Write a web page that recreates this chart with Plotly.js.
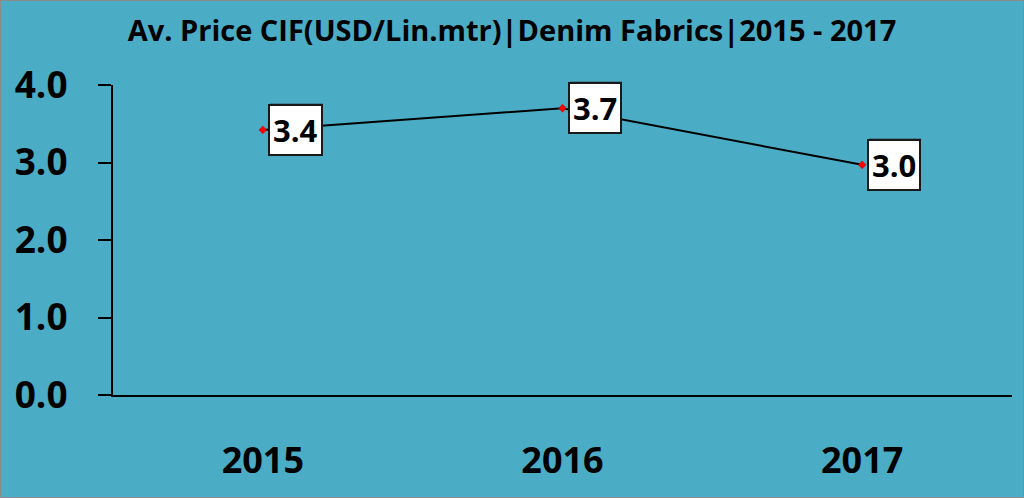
<!DOCTYPE html>
<html>
<head>
<meta charset="utf-8">
<script src="https://cdn.plot.ly/plotly-3.0.1.min.js"></script>
<style>
html,body{margin:0;padding:0;background:#fff;}
#chart{width:1024px;height:498px;box-sizing:border-box;border:1px solid #8a8a8a;}
</style>
</head>
<body>
<div id="chart"></div>
<script>
var years = ["2015", "2016", "2017"];
var prices = [3.42, 3.70, 2.97];
var yTicks = [0, 1, 2, 3, 4];
var yTickLabels = ["0.0", "1.0", "2.0", "3.0", "4.0"];
var chartTitle = "Av. Price CIF(USD/Lin.mtr)|Denim Fabrics|2015 - 2017";

var bg = "#4BACC6";

var trace = {
  x: years,
  y: prices,
  type: "scatter",
  mode: "lines+markers",
  line: {color: "#000000", width: 2},
  marker: {symbol: "diamond", color: "#FF0000", size: 6, line: {color: "#C00000", width: 0.5}},
  hoverinfo: "x+y"
};

var labelFont = {family: "Open Sans, sans-serif", size: 31, weight: "bold"};
var annotations = [];
years.forEach(function (yr, i) {
  // soft shadow behind the label box
  annotations.push({
    x: i, y: prices[i], xref: "x", yref: "y",
    text: prices[i].toFixed(1),
    showarrow: false,
    xanchor: "left", yanchor: "middle",
    xshift: 6, yshift: 2,
    bgcolor: "rgba(40,60,70,0.35)",
    bordercolor: "rgba(40,60,70,0.0)",
    borderwidth: 2,
    borderpad: 3,
    font: Object.assign({}, labelFont, {color: "rgba(0,0,0,0)"})
  });
  annotations.push({
    x: i, y: prices[i], xref: "x", yref: "y",
    text: prices[i].toFixed(1),
    showarrow: false,
    xanchor: "left", yanchor: "middle",
    xshift: 5,
    bgcolor: "#FFFFFF",
    bordercolor: "#1a1a1a",
    borderwidth: 2,
    borderpad: 3,
    font: Object.assign({}, labelFont, {color: "#000000"})
  });
});

var layout = {
  width: 1022, height: 496,
  paper_bgcolor: bg,
  plot_bgcolor: bg,
  margin: {l: 112, r: 11, t: 84, b: 102},
  showlegend: false,
  title: {
    text: "<b>" + chartTitle + "</b>",
    xref: "container", x: 0.5, xanchor: "center",
    yref: "container", y: 0.94, yanchor: "middle",
    font: {family: "Open Sans, sans-serif", size: 29, color: "#000000"}
  },
  xaxis: {
    type: "category",
    range: [-0.5, 2.5],
    showline: true, linecolor: "#000000", linewidth: 2,
    showgrid: false, zeroline: false,
    ticks: "",
    ticklabelstandoff: 33,
    tickfont: {family: "Open Sans, sans-serif", size: 36, color: "#000000", weight: "bold"},
    fixedrange: true
  },
  yaxis: {
    range: [0, 4],
    tickvals: yTicks,
    ticktext: yTickLabels,
    showline: true, linecolor: "#000000", linewidth: 2,
    showgrid: false, zeroline: false,
    ticks: "outside", ticklen: 13, tickwidth: 2, tickcolor: "#000000",
    ticklabelstandoff: 23,
    tickfont: {family: "Open Sans, sans-serif", size: 37, color: "#000000", weight: "bold"},
    fixedrange: true
  },
  annotations: annotations
};

Plotly.newPlot("chart", [trace], layout, {displayModeBar: false, staticPlot: true});
</script>
</body>
</html>
